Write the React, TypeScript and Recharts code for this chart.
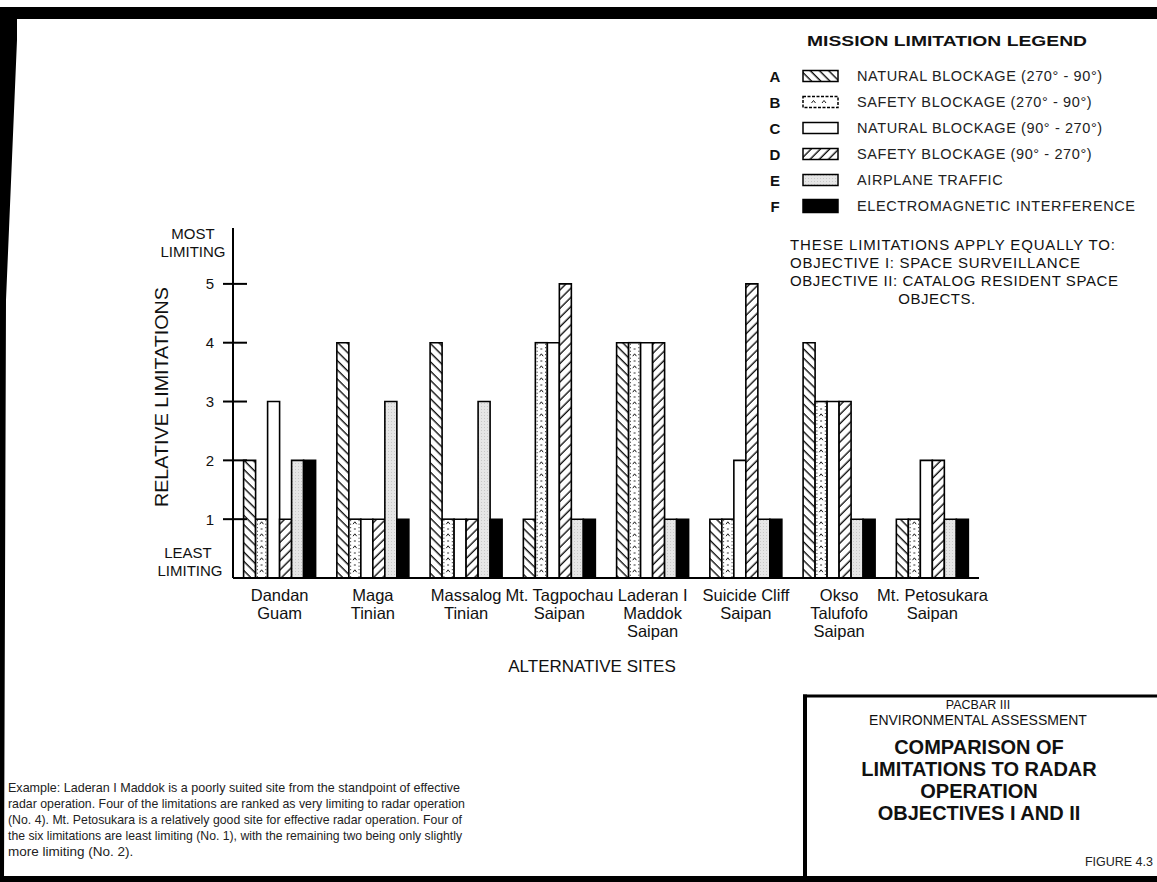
import React from 'react';
import { BarChart, Bar, XAxis, YAxis } from 'recharts';

// ---------- DATA ----------
const siteLines: string[][] = [
  ['Dandan', 'Guam'],
  ['Maga', 'Tinian'],
  ['Massalog', 'Tinian'],
  ['Mt. Tagpochau', 'Saipan'],
  ['Laderan I', 'Maddok', 'Saipan'],
  ['Suicide Cliff', 'Saipan'],
  ['Okso', 'Talufofo', 'Saipan'],
  ['Mt. Petosukara', 'Saipan'],
];
const naturalBlockageNorth = [2, 4, 4, 1, 4, 1, 4, 1]; // A
const safetyBlockageNorth = [1, 1, 1, 4, 4, 1, 3, 1]; // B
const naturalBlockageSouth = [3, 1, 1, 4, 4, 2, 3, 2]; // C
const safetyBlockageSouth = [1, 1, 1, 5, 4, 5, 3, 2]; // D
const airplaneTraffic = [2, 3, 3, 1, 1, 1, 1, 1]; // E
const electromagnetic = [2, 1, 1, 1, 1, 1, 1, 1]; // F
const yTicks = [1, 2, 3, 4, 5];

const legendLetters = ['A', 'B', 'C', 'D', 'E', 'F'];
const legendLabels = [
  'NATURAL BLOCKAGE (270° - 90°)',
  'SAFETY BLOCKAGE (270° - 90°)',
  'NATURAL BLOCKAGE (90° - 270°)',
  'SAFETY BLOCKAGE (90° - 270°)',
  'AIRPLANE TRAFFIC',
  'ELECTROMAGNETIC INTERFERENCE',
];
const noteLines = [
  'THESE LIMITATIONS APPLY EQUALLY TO:',
  'OBJECTIVE I: SPACE SURVEILLANCE',
  'OBJECTIVE II: CATALOG RESIDENT SPACE',
];
const noteWidths = [325, 290, 328];
const noteLast = 'OBJECTS.';
const exampleLines = [
  'Example:  Laderan I Maddok is a poorly suited site from the standpoint of effective',
  'radar operation.  Four of the limitations are ranked as very limiting to radar operation',
  '(No. 4).  Mt. Petosukara is a relatively good site for effective radar operation.  Four of',
  'the six limitations are least limiting (No. 1), with the remaining two being only slightly',
  'more limiting (No. 2).',
];
const exampleWidths = [452, 457, 454, 454, 0];
const titleLines = ['COMPARISON OF', 'LIMITATIONS TO RADAR', 'OPERATION', 'OBJECTIVES I AND II'];

const data = siteLines.map((lines, i) => ({
  site: lines.join(' '),
  A: naturalBlockageNorth[i],
  B: safetyBlockageNorth[i],
  C: naturalBlockageSouth[i],
  D: safetyBlockageSouth[i],
  E: airplaneTraffic[i],
  F: electromagnetic[i],
}));

const FONT = "'Liberation Sans', Arial, Helvetica, sans-serif";

const XTick = (props: any) => {
  const { x, y, payload } = props;
  const lines = siteLines[payload.index] || [String(payload.value)];
  return (
    <g>
      {lines.map((l, i) => (
        <text key={i} x={x} y={y + 22.5 + i * 18} textAnchor="middle" fontFamily={FONT} fontSize={16.5} fill="#111">
          {l}
        </text>
      ))}
    </g>
  );
};

const YTick = (props: any) => {
  const { x, y, payload } = props;
  return (
    <g>
      <line x1={x - 10} x2={x + 14} y1={y} y2={y} stroke="#000" strokeWidth={2} />
      <text x={x - 19} y={y + 5.5} textAnchor="end" fontFamily={FONT} fontSize={15} fill="#111">
        {payload.value}
      </text>
    </g>
  );
};

const DottedBar = (props: any) => {
  const { x, y, width, height } = props;
  if (!height || height <= 0) return null;
  const cx = x + width / 2;
  const marks: React.ReactNode[] = [];
  let k = 0;
  for (let yy = y + height - 7; yy > y + 3; yy -= 6) {
    if (k % 2 === 0) {
      marks.push(
        <path key={k} d={`M${cx - 1.8},${yy + 1.2} L${cx},${yy - 1.2} L${cx + 1.8},${yy + 1.2}`} fill="none" stroke="#000" strokeWidth={0.9} />
      );
    } else {
      marks.push(<line key={k} x1={cx - 1} x2={cx + 1} y1={yy} y2={yy} stroke="#000" strokeWidth={0.8} />);
    }
    k++;
  }
  return (
    <g>
      <rect x={x} y={y} width={width} height={height} fill="#fff" stroke="#000" strokeWidth={1.6} />
      <line x1={x + 1.8} x2={x + 1.8} y1={y + 1} y2={y + height} stroke="#000" strokeWidth={0.9} strokeDasharray="1 2.5" />
      <line x1={x + width - 1.8} x2={x + width - 1.8} y1={y + 1} y2={y + height} stroke="#000" strokeWidth={0.9} strokeDasharray="1 2.5" />
      {marks}
    </g>
  );
};

const Patterns = () => (
  <defs>
    <pattern id="hatchA" patternUnits="userSpaceOnUse" width="6.5" height="6.5" patternTransform="rotate(-45)">
      <rect width="6.5" height="6.5" fill="#fff" />
      <line x1="3" y1="0" x2="3" y2="6.5" stroke="#000" strokeWidth="1.3" />
    </pattern>
    <pattern id="hatchD" patternUnits="userSpaceOnUse" width="6.5" height="6.5" patternTransform="rotate(45)">
      <rect width="6.5" height="6.5" fill="#fff" />
      <line x1="3" y1="0" x2="3" y2="6.5" stroke="#000" strokeWidth="1.3" />
    </pattern>
    <pattern id="stippleE" patternUnits="userSpaceOnUse" width="3" height="3">
      <rect width="3" height="3" fill="#e6e6e6" />
      <rect x="1" y="1" width="1" height="1" fill="#c8c8c8" />
    </pattern>
  </defs>
);

export default function App() {
  const W = 1157;
  const H = 882;
  return (
    <div style={{ position: 'relative', width: W, height: H, background: '#fff', overflow: 'hidden' }}>
      <style>{`body{margin:0;background:#fff;}`}</style>
      <svg width={W} height={H} style={{ position: 'absolute', left: 0, top: 0 }}>
        <Patterns />
      </svg>
      <div style={{ position: 'absolute', left: 0, top: 0 }}>
        <BarChart
          width={W}
          height={H}
          data={data}
          margin={{ top: 228, right: 178, bottom: 244, left: 173 }}
          barCategoryGap={10.6}
          barGap={0}
        >
          <XAxis
            dataKey="site"
            height={60}
            interval={0}
            tickLine={false}
            tickSize={0}
            tickMargin={0}
            axisLine={{ stroke: '#000', strokeWidth: 2 }}
            tick={<XTick />}
          />
          <YAxis
            width={60}
            type="number"
            domain={[0, 5.95]}
            allowDataOverflow
            ticks={yTicks}
            interval={0}
            tickLine={false}
            tickSize={0}
            tickMargin={0}
            axisLine={{ stroke: '#000', strokeWidth: 2 }}
            tick={<YTick />}
          />
          <Bar dataKey="A" fill="url(#hatchA)" stroke="#000" strokeWidth={1.6} isAnimationActive={false} />
          <Bar dataKey="B" fill="#fff" shape={<DottedBar />} isAnimationActive={false} />
          <Bar dataKey="C" fill="#fff" stroke="#000" strokeWidth={1.6} isAnimationActive={false} />
          <Bar dataKey="D" fill="url(#hatchD)" stroke="#000" strokeWidth={1.6} isAnimationActive={false} />
          <Bar dataKey="E" fill="url(#stippleE)" stroke="#000" strokeWidth={1.6} isAnimationActive={false} />
          <Bar dataKey="F" fill="#000" stroke="#000" strokeWidth={1.6} isAnimationActive={false} />
        </BarChart>
      </div>
      <svg width={W} height={H} style={{ position: 'absolute', left: 0, top: 0, pointerEvents: 'none' }} fontFamily={FONT}>
        {/* frame */}
        <rect x={3} y={7} width={W} height={12} fill="#000" />
        <polygon points={`3,7 17,7 17,40 6,300 4,${H} 0,${H} 0,7`} fill="#000" />
        <rect x={0} y={876} width={W} height={6} fill="#000" />

        {/* axis end labels */}
        <text x={193} y={239} textAnchor="middle" fontSize={15} fill="#111">MOST</text>
        <text x={193} y={257} textAnchor="middle" fontSize={15} fill="#111">LIMITING</text>
        <text x={188} y={558} textAnchor="middle" fontSize={15} fill="#111">LEAST</text>
        <text x={190} y={576} textAnchor="middle" fontSize={15} fill="#111">LIMITING</text>
        <text
          x={0}
          y={0}
          transform="translate(168,397) rotate(-90)"
          textAnchor="middle"
          fontSize={18}
          textLength={220}
          lengthAdjust="spacingAndGlyphs"
          fill="#111"
        >
          RELATIVE LIMITATIONS
        </text>
        <text x={592} y={672} textAnchor="middle" fontSize={17} fill="#111">
          ALTERNATIVE SITES
        </text>

        {/* legend */}
        <text x={947} y={46} textAnchor="middle" fontSize={15.5} fontWeight="bold" textLength={280} lengthAdjust="spacingAndGlyphs" fill="#111">
          MISSION LIMITATION LEGEND
        </text>
        {legendLetters.map((l, i) => {
          const cy = 76 + i * 26;
          const sx = 803;
          const sw = 35;
          const sh = i === 5 ? 13 : 11;
          const sy = cy - sh / 2;
          let swatch: React.ReactNode = null;
          if (i === 0) swatch = <rect x={sx} y={sy} width={sw} height={sh} fill="url(#hatchA)" stroke="#000" strokeWidth={1.5} />;
          else if (i === 1)
            swatch = (
              <g>
                <rect x={sx} y={sy} width={sw} height={sh} fill="#fff" stroke="#000" strokeWidth={1.5} strokeDasharray="3 1.5" />
                {[0.3, 0.6].map((f, j) => (
                  <path key={j} d={`M${sx + sw * f - 2},${cy + 1} L${sx + sw * f},${cy - 1.5} L${sx + sw * f + 2},${cy + 1}`} fill="none" stroke="#000" strokeWidth={0.9} />
                ))}
              </g>
            );
          else if (i === 2) swatch = <rect x={sx} y={sy} width={sw} height={sh} fill="#fff" stroke="#000" strokeWidth={1.5} />;
          else if (i === 3) swatch = <rect x={sx} y={sy} width={sw} height={sh} fill="url(#hatchD)" stroke="#000" strokeWidth={1.5} />;
          else if (i === 4) swatch = <rect x={sx} y={sy} width={sw} height={sh} fill="url(#stippleE)" stroke="#000" strokeWidth={1.5} />;
          else swatch = <rect x={sx} y={sy} width={sw} height={sh} fill="#000" stroke="#000" strokeWidth={1.5} />;
          return (
            <g key={l}>
              <text x={775} y={cy + 5.5} textAnchor="middle" fontSize={15} fontWeight="bold" fill="#111">{l}</text>
              {swatch}
              <text x={857} y={cy + 5} fontSize={14.5} letterSpacing={0.6} fill="#222">{legendLabels[i]}</text>
            </g>
          );
        })}

        {/* note */}
        {noteLines.map((t, i) => (
          <text key={i} x={790} y={250 + i * 18} fontSize={15} textLength={noteWidths[i]} lengthAdjust="spacing" fill="#111">{t}</text>
        ))}
        <text x={937} y={304} textAnchor="middle" fontSize={15} letterSpacing={0.5} fill="#111">{noteLast}</text>

        {/* example text */}
        {exampleLines.map((t, i) => (
          <text
            key={i}
            x={8}
            y={792 + i * 16}
            fontSize={13.5}
            fill="#222"
            {...(exampleWidths[i] ? { textLength: exampleWidths[i], lengthAdjust: 'spacingAndGlyphs' } : {})}
          >
            {t}
          </text>
        ))}

        {/* title box */}
        <line x1={803} y1={696} x2={W} y2={696} stroke="#000" strokeWidth={3} />
        <line x1={805} y1={694.5} x2={805} y2={H} stroke="#000" strokeWidth={4} />
        <text x={978} y={709} textAnchor="middle" fontSize={12.5} fill="#111">PACBAR III</text>
        <text x={978} y={725} textAnchor="middle" fontSize={14} fill="#111">ENVIRONMENTAL ASSESSMENT</text>
        {titleLines.map((t, i) => (
          <text key={i} x={979} y={753.5 + i * 22.2} textAnchor="middle" fontSize={20} fontWeight="bold" fill="#111">{t}</text>
        ))}
        <text x={1153} y={866} textAnchor="end" fontSize={12.5} fill="#222">FIGURE 4.3</text>
      </svg>
    </div>
  );
}
